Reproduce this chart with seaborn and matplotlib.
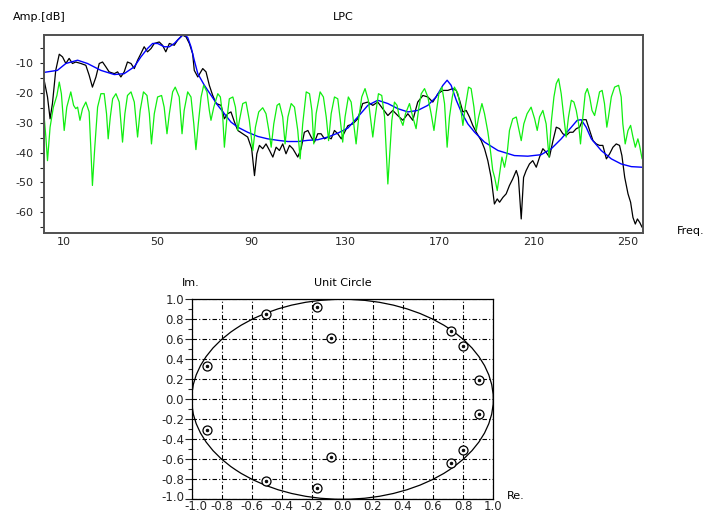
import matplotlib
matplotlib.use("Agg")
import matplotlib.pyplot as plt
import matplotlib.patches as mpatches
import matplotlib.transforms as mtransforms
from matplotlib.ticker import FixedLocator
import seaborn as sns
import pandas as pd

# ---------------- data ----------------
black_f = [1.5, 3.2, 4.3, 5.3, 6.7, 8.2, 9.6, 11.0, 12.4, 13.8, 15.2, 17.4, 19.5, 20.9, 22.3, 23.8,
           25.2, 26.6, 28.0, 29.4, 31.6, 33.0, 34.4, 35.8, 37.2, 38.7, 40.1, 41.5, 42.9, 44.3, 45.7,
           47.2, 48.6, 50.7, 52.1, 53.5, 55.0, 57.1, 58.5, 60.6, 62.1, 63.5, 64.9, 65.6, 67.1, 69.2,
           70.6, 72.0, 73.4, 74.9, 77.0, 78.4, 79.8, 81.2, 82.7, 84.1, 86.2, 88.3, 90.0, 91.2, 92.2,
           93.3, 94.7, 96.1, 97.6, 99.0, 100.4, 101.8, 103.2, 104.6, 106.1, 107.5, 109.6, 111.0,
           112.4, 113.9, 115.3, 116.7, 118.1, 119.5, 121.0, 122.4, 123.8, 125.2, 126.6, 128.1,
           129.5, 130.9, 133.0, 135.1, 137.2, 139.4, 141.5, 143.6, 145.7, 147.9, 150.0, 152.1,
           154.3, 156.4, 158.5, 160.6, 162.8, 164.9, 167.0, 169.2, 171.3, 173.4, 175.5, 177.0,
           178.4, 179.8, 181.2, 182.6, 184.0, 185.5, 187.6, 189.0, 190.4, 191.8, 193.2, 194.4,
           195.4, 196.8, 198.2, 199.6, 201.0, 202.5, 203.4, 204.6, 205.6, 206.7, 208.1, 209.5,
           211.0, 212.4, 213.8, 215.2, 216.6, 218.1, 219.5, 220.9, 222.3, 223.7, 225.2, 226.6,
           228.0, 229.4, 230.8, 232.2, 233.7, 235.1, 236.5, 237.9, 239.3, 240.8, 242.2, 243.6,
           245.0, 246.4, 247.4, 248.6, 250.0, 251.1, 252.1, 253.1, 254.0, 255.0, 256.0]
black_db = [-14.7, -21.4, -28.7, -23.6, -12.5, -7.1, -8.0, -10.2, -8.5, -10.2, -9.7, -10.2, -10.8,
            -14.1, -18.1, -14.7, -10.2, -9.7, -11.3, -13.0, -13.6, -13.0, -14.7, -13.0, -9.7,
            -10.2, -11.9, -9.1, -6.9, -4.6, -6.3, -5.2, -3.5, -3.0, -4.1, -6.3, -3.5, -4.1, -2.4,
            -0.7, -1.3, -3.5, -6.9, -12.5, -14.7, -11.9, -13.0, -17.5, -20.8, -23.6, -24.2, -28.7,
            -27.0, -26.4, -29.8, -32.6, -33.7, -34.8, -38.7, -47.7, -40.4, -37.6, -38.7, -37.1,
            -39.3, -41.5, -38.2, -39.3, -37.1, -40.4, -37.6, -38.7, -41.5, -38.7, -33.2, -32.6,
            -34.8, -36.5, -33.7, -33.7, -35.4, -34.8, -35.4, -32.6, -33.7, -35.4, -33.2, -31.0,
            -30.4, -28.7, -23.6, -23.1, -24.2, -23.1, -25.3, -27.6, -25.9, -27.6, -29.2, -27.0,
            -29.2, -23.1, -20.9, -21.4, -23.1, -20.3, -19.2, -19.2, -18.6, -19.2, -22.5, -26.4,
            -25.9, -28.1, -30.9, -33.2, -36.0, -38.7, -42.7, -48.3, -57.2, -55.5, -56.6, -55.0,
            -53.8, -51.0, -48.8, -46.0, -48.3, -62.2, -48.3, -46.0, -43.8, -42.7, -44.9, -41.5,
            -38.7, -39.9, -41.5, -36.0, -31.5, -32.0, -33.7, -34.3, -33.2, -33.2, -32.0, -31.5,
            -29.0, -29.0, -32.6, -36.0, -37.1, -37.6, -37.6, -42.1, -40.4, -38.2, -37.1, -37.6,
            -41.0, -48.3, -53.8, -56.6, -61.7, -63.9, -62.2, -63.4, -65.0]

blue_f = [1.5, 7.4, 11.0, 16.0, 20.2, 25.9, 31.6, 35.8, 40.1, 42.9, 45.7, 47.9, 50.0, 52.8, 55.0,
          57.1, 59.2, 61.1, 62.8, 64.2, 65.6, 67.1, 69.9, 72.7, 75.6, 78.4, 81.2, 84.1, 88.3, 92.6,
          96.8, 101.1, 105.4, 109.6, 113.9, 118.1, 122.4, 126.6, 130.9, 135.1, 139.4, 143.6, 147.9,
          152.1, 156.4, 160.6, 164.9, 168.4, 171.3, 173.1, 174.8, 177.0, 179.1, 181.9, 184.8,
          189.0, 194.7, 201.7, 207.4, 213.1, 217.4, 221.6, 225.9, 228.4, 230.1, 232.2, 234.4,
          238.6, 242.9, 247.1, 251.4, 256.0]
blue_db = [-13.2, -12.5, -10.2, -9.1, -10.2, -12.5, -13.9, -13.6, -11.3, -8.0, -5.2, -3.5, -3.5,
           -4.6, -4.6, -3.5, -1.8, -0.4, -1.5, -4.6, -9.1, -13.6, -17.5, -20.8, -24.2, -27.0,
           -29.8, -31.5, -33.2, -34.6, -35.4, -35.9, -36.3, -36.3, -35.9, -35.7, -34.8, -33.5,
           -31.8, -28.1, -24.2, -22.5, -23.6, -25.3, -26.4, -25.9, -24.2, -21.4, -17.5, -15.8,
           -17.5, -22.5, -26.4, -30.4, -33.2, -36.5, -39.3, -41.0, -41.2, -40.7, -38.7, -35.4,
           -31.5, -29.2, -29.0, -31.5, -35.4, -39.3, -42.1, -43.8, -44.7, -44.9]

green_f = [1.5, 2.5, 3.2, 4.3, 5.7, 7.2, 8.2, 9.1, 10.3, 11.4, 13.1, 14.3, 15.2, 16.0, 17.0, 18.1,
           19.5, 20.9, 21.6, 22.3, 23.3, 24.5, 25.9, 27.3, 28.3, 29.0, 29.9, 30.9, 32.3, 33.7,
           35.1, 36.1, 37.2, 38.7, 40.1, 41.5, 42.6, 44.0, 45.5, 46.5, 47.4, 48.6, 50.0, 51.7,
           52.8, 54.0, 55.0, 56.4, 57.5, 59.2, 60.4, 61.3, 62.8, 64.2, 65.4, 66.3, 67.3, 68.5,
           69.6, 71.0, 72.0, 72.7, 73.9, 75.6, 76.7, 77.7, 78.4, 79.4, 80.5, 82.0, 83.1, 84.1,
           84.8, 86.2, 87.6, 89.0, 90.5, 91.6, 93.0, 94.7, 96.1, 97.3, 98.3, 99.4, 100.8, 101.8,
           103.2, 104.2, 105.4, 106.8, 108.2, 109.6, 110.6, 111.7, 113.2, 114.6, 115.6, 116.4,
           117.4, 119.1, 120.5, 121.7, 122.7, 123.8, 125.2, 126.6, 127.7, 128.7, 129.7, 131.1,
           132.3, 133.4, 134.4, 135.4, 136.8, 138.2, 139.6, 140.8, 141.5, 142.5, 143.9, 145.3,
           146.5, 147.5, 147.9, 148.6, 149.6, 150.7, 151.8, 152.8, 154.3, 155.4, 157.1, 158.5,
           159.9, 161.1, 162.1, 163.5, 164.9, 166.3, 167.5, 168.4, 169.6, 170.9, 172.0, 173.1,
           174.1, 175.3, 176.2, 177.7, 178.8, 179.8, 180.8, 182.2, 183.3, 184.5, 185.5, 186.5,
           187.9, 189.0, 190.4, 191.5, 192.5, 193.3, 194.4, 195.4, 196.4, 197.5, 198.6, 199.6,
           201.0, 202.5, 203.4, 204.6, 205.7, 207.1, 208.8, 210.3, 211.4, 212.4, 213.8, 215.2,
           216.4, 217.4, 218.5, 219.5, 220.5, 221.6, 222.7, 223.7, 224.7, 225.9, 227.0, 228.0,
           229.0, 229.8, 230.8, 231.8, 232.7, 233.7, 234.7, 235.8, 236.9, 237.9, 239.0, 240.0,
           241.0, 241.7, 242.9, 244.3, 246.0, 247.1, 247.8, 248.8, 250.0, 251.1, 252.1, 253.1,
           254.2, 254.9, 256.0]
green_db = [-25.3, -34.8, -42.7, -31.5, -24.8, -20.9, -16.4, -20.3, -32.6, -24.8, -19.7, -24.2,
            -25.3, -24.8, -29.2, -25.3, -23.1, -26.4, -38.2, -51.0, -38.2, -24.8, -20.3, -20.3,
            -27.0, -35.4, -28.1, -22.0, -20.3, -23.1, -36.5, -27.0, -20.9, -19.7, -23.1, -34.8,
            -25.9, -19.7, -20.9, -27.0, -37.1, -27.0, -21.4, -20.9, -24.8, -33.7, -27.0, -19.7,
            -18.1, -21.4, -33.7, -25.9, -19.7, -21.4, -30.4, -39.0, -30.4, -21.4, -17.5, -19.7,
            -25.9, -29.2, -24.8, -20.3, -21.4, -28.1, -38.2, -29.2, -22.0, -21.4, -24.8, -32.6,
            -29.2, -23.6, -23.1, -29.2, -39.3, -31.5, -26.4, -25.0, -27.0, -32.6, -38.2, -30.4,
            -24.2, -23.6, -28.1, -37.1, -28.1, -23.6, -24.8, -32.6, -42.1, -30.4, -19.7, -20.3,
            -25.9, -37.1, -27.0, -19.7, -21.4, -28.1, -36.0, -27.0, -21.4, -22.0, -29.2, -36.5,
            -28.1, -21.4, -23.1, -30.4, -37.1, -29.2, -21.4, -18.6, -22.5, -30.4, -34.8, -28.1,
            -20.3, -20.9, -28.1, -43.8, -50.5, -41.5, -29.2, -23.1, -24.2, -28.1, -30.9, -27.0,
            -23.6, -28.1, -32.0, -24.8, -20.3, -18.6, -21.4, -27.0, -32.6, -27.0, -20.3, -18.1,
            -23.6, -38.2, -28.1, -21.4, -18.1, -20.3, -24.8, -30.9, -24.8, -18.1, -18.6, -24.8,
            -32.6, -28.1, -23.6, -27.0, -33.0, -39.3, -46.0, -48.3, -52.7, -47.1, -41.5, -44.9,
            -40.4, -32.6, -28.7, -28.1, -31.5, -36.0, -30.4, -27.0, -24.8, -28.7, -32.6, -28.1,
            -25.9, -30.4, -41.5, -29.6, -21.4, -16.9, -15.3, -20.3, -28.1, -34.8, -28.1, -22.5,
            -23.1, -25.9, -30.4, -37.1, -28.1, -20.3, -18.6, -21.4, -25.9, -27.6, -23.6, -19.7,
            -19.2, -23.6, -31.5, -28.1, -21.4, -18.1, -17.5, -21.4, -30.4, -37.1, -32.6, -30.9,
            -34.8, -38.2, -35.4, -37.6, -42.1]

freq_ticks = [10, 50, 90, 130, 170, 210, 250]
amp_ticks = [-10, -20, -30, -40, -50, -60]
amp_minor = [-5, -15, -25, -35, -45, -55, -65]

pole_re = [-0.171, -0.504, -0.078, -0.900, 0.718, 0.796, 0.904,
           0.904, 0.796, 0.718, -0.078, -0.171, -0.504, -0.900]
pole_im = [0.926, 0.850, 0.615, 0.338, 0.682, 0.538, 0.190,
           -0.144, -0.505, -0.639, -0.579, -0.883, -0.813, -0.304]
circle_ticks = [-1.0, -0.8, -0.6, -0.4, -0.2, 0.0, 0.2, 0.4, 0.6, 0.8, 1.0]
circle_minor = [-0.9, -0.7, -0.5, -0.3, -0.1, 0.1, 0.3, 0.5, 0.7, 0.9]

# ---------------- style ----------------
sns.set_style("white")
plt.rcParams["font.family"] = ["DejaVu Sans"]
plt.rcParams["font.size"] = 8
plt.rcParams["axes.unicode_minus"] = False

W, H = 708, 515
fig = plt.figure(figsize=(W / 100, H / 100), dpi=100)


def ax_px(l, t, r, b):
    return fig.add_axes([l / W, 1 - b / H, (r - l) / W, (b - t) / H])


def txt(x, y, s, ha="left"):
    fig.text(x / W, 1 - y / H, s, ha=ha, va="center", fontsize=8, color="black")


# ---------------- top panel: LPC ----------------
ax1 = ax_px(43.5, 34.5, 643.3, 233.3)
df_b = pd.DataFrame({"f": black_f, "db": black_db})
df_u = pd.DataFrame({"f": blue_f, "db": blue_db})
df_g = pd.DataFrame({"f": green_f, "db": green_db})
sns.lineplot(data=df_b, x="f", y="db", ax=ax1, color="black", lw=0.9, estimator=None, sort=False)
sns.lineplot(data=df_u, x="f", y="db", ax=ax1, color="#0000ff", lw=1.0, estimator=None, sort=False)
sns.lineplot(data=df_g, x="f", y="db", ax=ax1, color="#10ee10", lw=0.9, estimator=None, sort=False)
ax1.set_xlim(1.5, 256.5)
ax1.set_ylim(-67, -0.5)
ax1.set_xlabel("")
ax1.set_ylabel("")
ax1.xaxis.set_major_locator(FixedLocator(freq_ticks))
ax1.yaxis.set_major_locator(FixedLocator(amp_ticks))
ax1.yaxis.set_minor_locator(FixedLocator(amp_minor))
ax1.tick_params(axis="x", length=0, pad=3, labelsize=8)
ax1.tick_params(axis="y", which="both", direction="out", length=3, width=0.8, pad=4,
                labelsize=8, left=True)
for sp in ax1.spines.values():
    sp.set_color("#505050")
    sp.set_linewidth(1.4)

txt(13, 17, "Amp.[dB]")
txt(343, 17, "LPC", ha="center")
txt(677, 231, "Freq.")

# ---------------- bottom panel: unit circle ----------------
ax2 = ax_px(191.7, 299.3, 493.3, 499.3)
ax2.set_xlim(-1.0, 1.0)
ax2.set_ylim(-1.0, 1.0)
ax2.xaxis.set_major_locator(FixedLocator(circle_ticks))
ax2.yaxis.set_major_locator(FixedLocator(circle_ticks))
ax2.yaxis.set_minor_locator(FixedLocator(circle_minor))
ax2.set_xticklabels([f"{v:.1f}" for v in circle_ticks])
ax2.set_yticklabels([f"{v:.1f}" for v in circle_ticks])
ax2.grid(True, which="major", color="black", linestyle=(0, (4, 2, 1, 2)), lw=0.8)
ax2.set_axisbelow(True)
ax2.add_patch(mpatches.Circle((0, 0), 1.0, fill=False, edgecolor="black", lw=0.9, clip_on=True))
df_p = pd.DataFrame({"re": pole_re, "im": pole_im})
sns.scatterplot(data=df_p, x="re", y="im", ax=ax2, s=42, marker="o", facecolor="white",
                edgecolor="black", linewidth=0.9, zorder=3)
sns.scatterplot(data=df_p, x="re", y="im", ax=ax2, s=4, marker="o", color="black",
                edgecolor="black", linewidth=0.5, zorder=4)
ax2.set_xlabel("")
ax2.set_ylabel("")
ax2.tick_params(axis="y", which="major", direction="out", length=5, width=0.8, pad=0.5,
                labelsize=8.5, left=True)
ax2.tick_params(axis="y", which="minor", direction="out", length=3, width=0.8, left=True)
ax2.tick_params(axis="x", length=0, pad=0.5, labelsize=8.5)
for sp in ax2.spines.values():
    sp.set_color("black")
    sp.set_linewidth(0.9)

# nudge the first x label right (as in the reference) so it clears the y label
first_lbl = ax2.get_xticklabels()[0]
first_lbl.set_transform(first_lbl.get_transform()
                        + mtransforms.ScaledTranslation(4 / 100, 0, fig.dpi_scale_trans))
first_y = ax2.get_yticklabels()[0]
first_y.set_transform(first_y.get_transform()
                      + mtransforms.ScaledTranslation(0, 3 / 100, fig.dpi_scale_trans))

txt(182, 283, "Im.")
txt(343, 283, "Unit Circle", ha="center")
txt(507, 496, "Re.")

fig.savefig("out.png", dpi=100)
